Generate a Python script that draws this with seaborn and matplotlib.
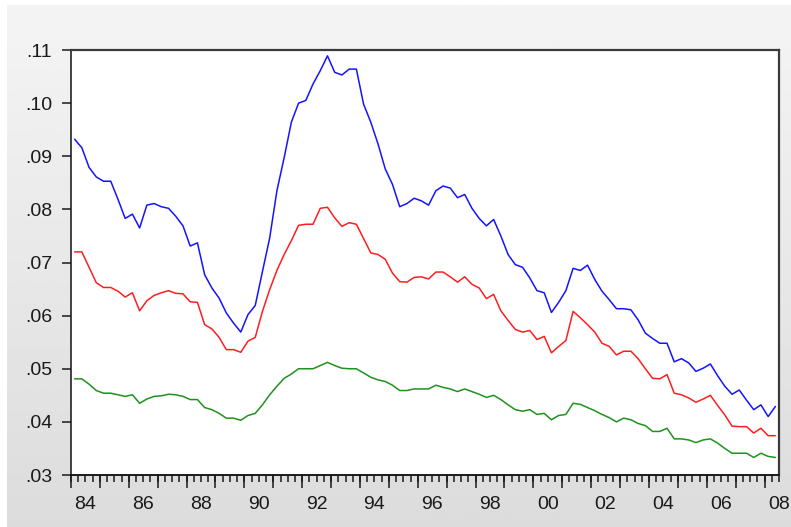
import numpy as np
import pandas as pd
import matplotlib
matplotlib.use('Agg')
import matplotlib.pyplot as plt
import seaborn as sns
from matplotlib.ticker import FuncFormatter

# kvartaliandmed 1984Q1 - 2008Q2
start_year = 1984
blue = [.0932, .0916, .0879, .0861, .0853, .0853, .0819, .0783, .0791, .0765,
        .0808, .0811, .0805, .0802, .0787, .0769, .0731, .0737, .0677, .0652,
        .0633, .0605, .0586, .0569, .0602, .0619, .0683, .0746, .0835, .0897,
        .0964, .1000, .1005, .1036, .1061, .1089, .1058, .1053, .1064, .1064,
        .0998, .0964, .0923, .0876, .0847, .0805, .0811, .0821, .0816, .0808,
        .0835, .0844, .0840, .0822, .0828, .0802, .0783, .0769, .0781, .0750,
        .0715, .0696, .0691, .0671, .0647, .0643, .0606, .0625, .0647, .0689,
        .0685, .0695, .0668, .0646, .0630, .0613, .0613, .0611, .0592, .0567,
        .0557, .0548, .0548, .0513, .0519, .0511, .0495, .0501, .0509, .0487,
        .0467, .0452, .0460, .0441, .0423, .0432, .0410, .0429]
red = [.0720, .0720, .0691, .0662, .0653, .0653, .0646, .0635, .0643, .0609,
       .0628, .0638, .0643, .0647, .0642, .0641, .0626, .0625, .0583, .0575,
       .0559, .0536, .0536, .0531, .0552, .0559, .0608, .0649, .0685, .0715,
       .0741, .0770, .0772, .0772, .0802, .0804, .0784, .0768, .0775, .0772,
       .0745, .0718, .0715, .0706, .0680, .0664, .0663, .0672, .0673, .0669,
       .0682, .0682, .0673, .0663, .0673, .0659, .0652, .0632, .0640, .0609,
       .0591, .0574, .0569, .0572, .0555, .0561, .0530, .0542, .0553, .0608,
       .0596, .0583, .0569, .0548, .0542, .0526, .0533, .0533, .0519, .0500,
       .0482, .0481, .0489, .0454, .0451, .0445, .0437, .0443, .0450, .0431,
       .0413, .0392, .0391, .0391, .0379, .0388, .0374, .0374]
green = [.0481, .0481, .0471, .0459, .0454, .0454, .0451, .0448, .0451, .0435,
         .0443, .0448, .0449, .0452, .0451, .0448, .0442, .0442, .0427, .0423,
         .0416, .0407, .0407, .0403, .0412, .0416, .0432, .0451, .0467, .0482,
         .0490, .0500, .0500, .0500, .0506, .0512, .0506, .0501, .0500, .0500,
         .0492, .0484, .0479, .0476, .0469, .0459, .0459, .0462, .0462, .0462,
         .0469, .0465, .0462, .0457, .0462, .0457, .0452, .0446, .0450, .0442,
         .0432, .0423, .0420, .0423, .0414, .0416, .0404, .0412, .0414, .0435,
         .0433, .0427, .0421, .0414, .0408, .0400, .0407, .0404, .0397, .0393,
         .0382, .0382, .0388, .0368, .0368, .0366, .0361, .0366, .0368, .0360,
         .0350, .0341, .0341, .0341, .0333, .0341, .0335, .0333]
y_ticks = [.03, .04, .05, .06, .07, .08, .09, .10, .11]
year_labels = list(range(1984, 2009, 2))

n = len(blue)
t = start_year + (np.arange(n) + 0.5) / 4
df = pd.DataFrame({'t': np.tile(t, 3),
                   'value': blue + red + green,
                   'series': ['blue'] * n + ['red'] * n + ['green'] * n})

sns.set_style('ticks')
plt.rcParams['font.family'] = ['Liberation Sans', 'DejaVu Sans']

fig = plt.figure(figsize=(7.91, 5.27), dpi=100)
fig.patch.set_facecolor('white')

# hall taust gradiendiga
bg = fig.add_axes([7 / 791, 0, 1 - 7 / 791, 1 - 5 / 527], zorder=0)
grad = np.linspace(0.957, 0.862, 256).reshape(-1, 1)
bg.imshow(grad, cmap='gray', vmin=0, vmax=1, aspect='auto', extent=[0, 1, 0, 1])
bg.axis('off')

ax = fig.add_axes([71 / 791, 1 - 475 / 527, 708 / 791, 425 / 527], zorder=1)
ax.set_facecolor('white')
sns.lineplot(data=df, x='t', y='value', hue='series', estimator=None,
             palette={'blue': '#1414ff', 'red': '#ff1e1e', 'green': '#1e921e'},
             linewidth=1.1, legend=False, ax=ax)

ax.set_xlim(start_year, 2008.5)
ax.set_ylim(0.03, 0.11)
ax.set_xlabel('')
ax.set_ylabel('')

# y-telg
ax.set_yticks(y_ticks)
ax.yaxis.set_major_formatter(FuncFormatter(lambda v, p: f'{v:.2f}'.lstrip('0')))
ax.tick_params(axis='y', length=6.5, width=1.1, pad=7, labelsize=14, colors='#1a1a1a')

# x-telg: sildid aastate keskel, lühikesed kriipsud kvartalitel
ax.xaxis.remove_overlapping_locs = False
ax.set_xticks([y + 0.5 for y in year_labels])
ax.set_xticklabels([f'{y % 100:02d}' for y in year_labels])
ax.set_xticks(np.arange(start_year, 2008.51, 0.25), minor=True)
ax.tick_params(axis='x', which='major', length=0, pad=15, labelsize=14, colors='#1a1a1a')
ax.tick_params(axis='x', which='minor', length=5, width=1.1, color='#1a1a1a')

sec = ax.secondary_xaxis('bottom')
sec.set_xticks(np.arange(start_year, 2009))
sec.tick_params(length=9.5, width=1.1, labelbottom=False, color='#1a1a1a')
sec.spines['bottom'].set_linewidth(1.1)

for side in ['left', 'bottom']:
    ax.spines[side].set_color('#111111')
    ax.spines[side].set_linewidth(1.1)
for side in ['top', 'right']:
    ax.spines[side].set_visible(True)
    ax.spines[side].set_color('#3a3a3a')
    ax.spines[side].set_linewidth(1.6)

fig.savefig('out.png', dpi=100)
